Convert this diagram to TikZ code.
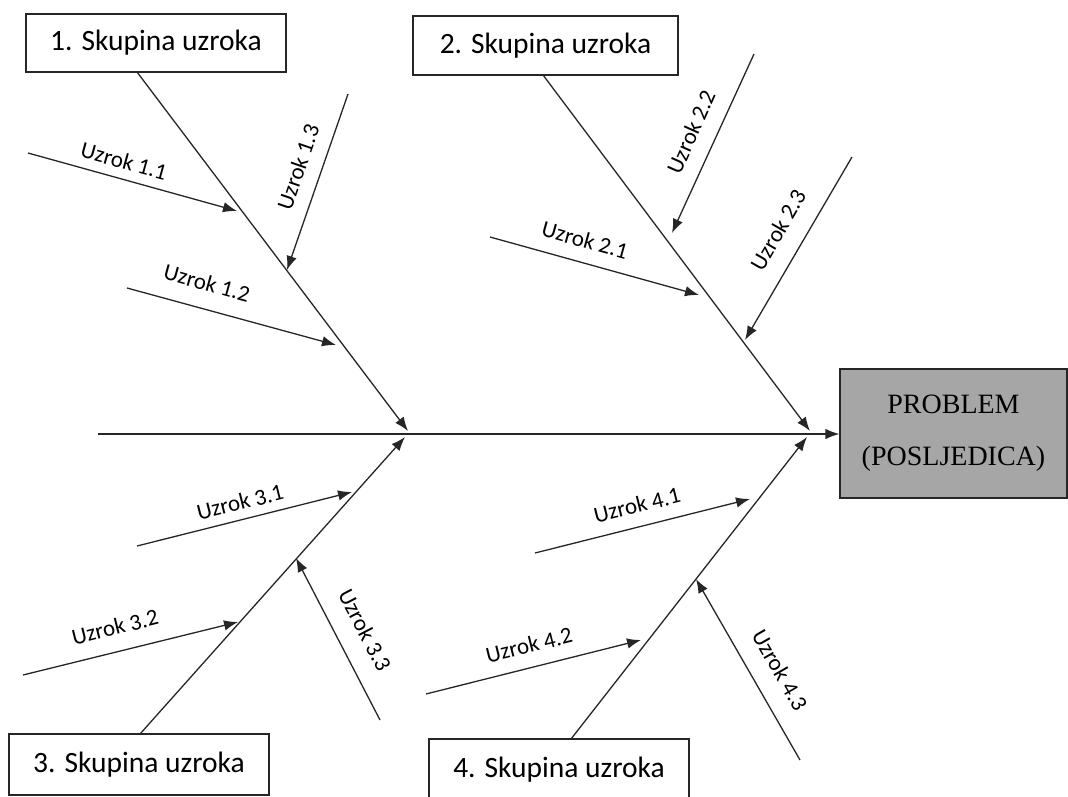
\documentclass[tikz,border=0pt]{standalone}
\usepackage{fontspec}
\setmainfont{Carlito}
\newfontfamily\serifprob{Liberation Serif}
\usetikzlibrary{arrows.meta}
\begin{document}
\begin{tikzpicture}[x=1pt,y=-1pt,
  ln/.style={line width=1.3pt, draw=black!85},
  arr/.style={ln, -{Latex[length=14pt,width=10.5pt]}},
  grpbox/.style={draw=black!85, line width=1.2pt, fill=white, inner sep=0pt,
    minimum width=260pt, font=\fontsize{29.5}{34}\selectfont},
  lbl/.style={inner sep=0pt, font=\fontsize{23}{27}\selectfont}
]
\useasboundingbox (0,0) rectangle (1068,797);

% boxes
\node[grpbox, minimum height=58pt] (b1) at (156,43) {1. Skupina uzroka};
\node[grpbox, minimum height=59pt, minimum width=265pt] (b2) at (545.5,45.5) {2. Skupina uzroka};
\node[grpbox, minimum height=61pt] (b3) at (139,764.5) {3. Skupina uzroka};
\node[grpbox, minimum height=62pt] (b4) at (559,770) {4. Skupina uzroka};
\node[draw=black!85, line width=1.2pt, fill=black!35, minimum width=227pt, minimum height=129pt,
  inner sep=0pt, align=center, font=\serifprob\fontsize{28}{52}\selectfont] (prob) at (953.5,433.5)
  {PROBLEM\\(POSLJEDICA)};

% spine
\coordinate (tail) at (98,434);
\coordinate (j1) at (408,431);
\coordinate (j2) at (810,431);
\coordinate (j3) at (405,437);
\coordinate (j4) at (807,437);
\draw[ln] (tail) -- (j1 |- tail);
\draw[arr] (j1 |- tail) -- (prob.west |- tail);

% main bones
\coordinate (s1) at (137,72);
\coordinate (s2) at (543,75);
\coordinate (s3) at (140,734);
\coordinate (s4) at (571,739);
\draw[arr] (s1) -- (j1);
\draw[arr] (s2) -- (j2);
\draw[arr] (s3) -- (j3);
\draw[arr] (s4) -- (j4);

% sub causes group 1
\coordinate (a11) at (28,153);  \coordinate (t11) at (237,211);
\coordinate (a12) at (127,288); \coordinate (t12) at (336,345);
\coordinate (a13) at (348,94);  \coordinate (t13) at (287,270);
\draw[arr] (a11) -- (t11);
\draw[arr] (a12) -- (t12);
\draw[arr] (a13) -- (t13);
\node[lbl, rotate=-15.5] (l11) at (124,161) {Uzrok 1.1};
\node[lbl, rotate=-15.5] (l12) at (207,283) {Uzrok 1.2};
\node[lbl, rotate=71] (l13) at (298,167) {Uzrok 1.3};

% group 2
\coordinate (a21) at (490,237); \coordinate (t21) at (699,295);
\coordinate (a22) at (754,54);  \coordinate (t22) at (672,233);
\coordinate (a23) at (852,157); \coordinate (t23) at (745,340);
\draw[arr] (a21) -- (t21);
\draw[arr] (a22) -- (t22);
\draw[arr] (a23) -- (t23);
\node[lbl, rotate=-15.5] (l21) at (585,240) {Uzrok 2.1};
\node[lbl, rotate=66] (l22) at (691,132) {Uzrok 2.2};
\node[lbl, rotate=60] (l23) at (778,230) {Uzrok 2.3};

% group 3
\coordinate (a31) at (137,546); \coordinate (t31) at (352,492);
\coordinate (a32) at (23,675);  \coordinate (t32) at (238,622);
\coordinate (a33) at (380,720); \coordinate (t33) at (296,558);
\draw[arr] (a31) -- (t31);
\draw[arr] (a32) -- (t32);
\draw[arr] (a33) -- (t33);
\node[lbl, rotate=14] (l31) at (240,502) {Uzrok 3.1};
\node[lbl, rotate=14] (l32) at (115,627) {Uzrok 3.2};
\node[lbl, rotate=-62.5] (l33) at (365,630) {Uzrok 3.3};

% group 4
\coordinate (a41) at (535,553); \coordinate (t41) at (750,499);
\coordinate (a42) at (426,694); \coordinate (t42) at (641,640);
\coordinate (a43) at (800,760); \coordinate (t43) at (696,579);
\draw[arr] (a41) -- (t41);
\draw[arr] (a42) -- (t42);
\draw[arr] (a43) -- (t43);
\node[lbl, rotate=14] (l41) at (637,505) {Uzrok 4.1};
\node[lbl, rotate=14] (l42) at (529,645) {Uzrok 4.2};
\node[lbl, rotate=-60] (l43) at (780,670) {Uzrok 4.3};
\end{tikzpicture}
\end{document}
